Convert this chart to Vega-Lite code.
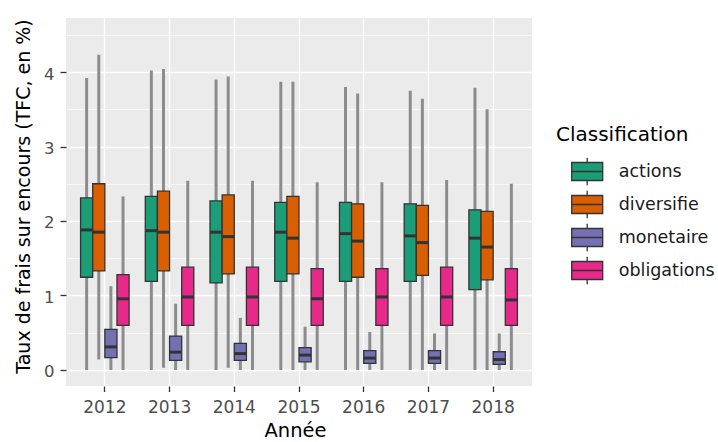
{
  "$schema": "https://vega.github.io/schema/vega-lite/v6.json",
  "width": 466,
  "height": 368,
  "autosize": {"type": "none"},
  "padding": {"left": 66, "top": 18, "right": 186, "bottom": 56},
  "background": "white",
  "config": {
    "view": {"fill": "#EBEBEB", "stroke": null},
    "font": "DejaVu Sans"
  },
  "data": {
    "values": [
      {"annee": "2012", "classe": "actions", "lo": 0, "q1": 1.245, "med": 1.88, "q3": 2.31, "hi": 3.92},
      {"annee": "2012", "classe": "diversifie", "lo": 0.14, "q1": 1.33, "med": 1.85, "q3": 2.5, "hi": 4.23},
      {"annee": "2012", "classe": "monetaire", "lo": 0, "q1": 0.165, "med": 0.31, "q3": 0.545, "hi": 1.125},
      {"annee": "2012", "classe": "obligations", "lo": 0, "q1": 0.6, "med": 0.955, "q3": 1.28, "hi": 2.33},
      {"annee": "2013", "classe": "actions", "lo": 0, "q1": 1.19, "med": 1.87, "q3": 2.33, "hi": 4.02},
      {"annee": "2013", "classe": "diversifie", "lo": 0.03, "q1": 1.33, "med": 1.85, "q3": 2.4, "hi": 4.04},
      {"annee": "2013", "classe": "monetaire", "lo": 0, "q1": 0.13, "med": 0.24, "q3": 0.455, "hi": 0.89},
      {"annee": "2013", "classe": "obligations", "lo": 0, "q1": 0.6, "med": 0.98, "q3": 1.38, "hi": 2.54},
      {"annee": "2014", "classe": "actions", "lo": 0, "q1": 1.17, "med": 1.85, "q3": 2.27, "hi": 3.9},
      {"annee": "2014", "classe": "diversifie", "lo": 0.03, "q1": 1.29, "med": 1.79, "q3": 2.35, "hi": 3.94},
      {"annee": "2014", "classe": "monetaire", "lo": 0, "q1": 0.13, "med": 0.22, "q3": 0.357, "hi": 0.7},
      {"annee": "2014", "classe": "obligations", "lo": 0, "q1": 0.6, "med": 0.98, "q3": 1.38, "hi": 2.54},
      {"annee": "2015", "classe": "actions", "lo": 0, "q1": 1.19, "med": 1.85, "q3": 2.25, "hi": 3.87},
      {"annee": "2015", "classe": "diversifie", "lo": 0, "q1": 1.29, "med": 1.77, "q3": 2.33, "hi": 3.87},
      {"annee": "2015", "classe": "monetaire", "lo": 0, "q1": 0.11, "med": 0.2, "q3": 0.3, "hi": 0.58},
      {"annee": "2015", "classe": "obligations", "lo": 0, "q1": 0.6, "med": 0.955, "q3": 1.36, "hi": 2.52},
      {"annee": "2016", "classe": "actions", "lo": 0, "q1": 1.19, "med": 1.83, "q3": 2.25, "hi": 3.8},
      {"annee": "2016", "classe": "diversifie", "lo": 0, "q1": 1.245, "med": 1.73, "q3": 2.23, "hi": 3.71},
      {"annee": "2016", "classe": "monetaire", "lo": 0, "q1": 0.09, "med": 0.16, "q3": 0.26, "hi": 0.51},
      {"annee": "2016", "classe": "obligations", "lo": 0, "q1": 0.6, "med": 0.98, "q3": 1.36, "hi": 2.52},
      {"annee": "2017", "classe": "actions", "lo": 0, "q1": 1.19, "med": 1.8, "q3": 2.23, "hi": 3.75},
      {"annee": "2017", "classe": "diversifie", "lo": 0, "q1": 1.27, "med": 1.71, "q3": 2.21, "hi": 3.64},
      {"annee": "2017", "classe": "monetaire", "lo": 0, "q1": 0.09, "med": 0.16, "q3": 0.26, "hi": 0.49},
      {"annee": "2017", "classe": "obligations", "lo": 0, "q1": 0.6, "med": 0.98, "q3": 1.38, "hi": 2.55},
      {"annee": "2018", "classe": "actions", "lo": 0, "q1": 1.08, "med": 1.77, "q3": 2.15, "hi": 3.79},
      {"annee": "2018", "classe": "diversifie", "lo": 0, "q1": 1.21, "med": 1.65, "q3": 2.13, "hi": 3.5},
      {"annee": "2018", "classe": "monetaire", "lo": 0, "q1": 0.075, "med": 0.14, "q3": 0.245, "hi": 0.49},
      {"annee": "2018", "classe": "obligations", "lo": 0, "q1": 0.6, "med": 0.94, "q3": 1.36, "hi": 2.5}
    ]
  },
  "encoding": {
    "x": {
      "field": "annee",
      "type": "nominal",
      "scale": {"paddingInner": 0, "paddingOuter": 0.1},
      "axis": {
        "title": "Année",
        "titleFontSize": 19.5,
        "titleFontWeight": "normal",
        "titleColor": "#000000",
        "titleBaseline": "alphabetic",
        "titleX": 229,
        "titleY": 50.5,
        "titleAlign": "center",
        "labelAngle": 0,
        "labelFontSize": 17,
        "labelColor": "#4D4D4D",
        "labelBaseline": "alphabetic",
        "labelPadding": 21,
        "tickSize": 5.5,
        "tickColor": "#333333",
        "tickWidth": 1.3,
        "domain": false,
        "grid": true,
        "gridColor": "#FFFFFF",
        "gridWidth": 1.3,
        "bandPosition": 0.5
      }
    },
    "xOffset": {
      "field": "classe",
      "type": "nominal",
      "scale": {"paddingInner": 0, "paddingOuter": 0.667}
    }
  },
  "layer": [
    {
      "mark": {"type": "rule", "color": "#8C8C8C", "strokeWidth": 3},
      "encoding": {
        "y": {
          "field": "lo",
          "type": "quantitative",
          "scale": {"domain": [-0.215, 4.725], "nice": false, "zero": false},
          "axis": {
            "title": "Taux de frais sur encours (TFC, en %)",
            "titleFontSize": 19,
            "titleFontWeight": "normal",
            "titleColor": "#000000",
            "titleX": -43,
            "titleY": 178,
            "titleAlign": "center",
            "titleBaseline": "middle",
            "values": [0, 0.5, 1, 1.5, 2, 2.5, 3, 3.5, 4, 4.5],
            "labelExpr": "datum.value % 1 === 0 ? format(datum.value, 'd') : ''",
            "labelFontSize": 16.5,
            "labelColor": "#4D4D4D",
            "labelBaseline": "alphabetic",
            "labelOffset": 7,
            "labelPadding": 6,
            "tickSize": 6,
            "tickColor": "#333333",
            "tickWidth": 1.3,
            "tickOpacity": {"condition": {"test": "datum.value % 1 !== 0", "value": 0}, "value": 1},
            "domain": false,
            "grid": true,
            "gridColor": "#FFFFFF",
            "gridWidth": {"condition": {"test": "datum.value % 1 !== 0", "value": 0.6}, "value": 1.3}
          }
        },
        "y2": {"field": "hi"}
      }
    },
    {
      "mark": {"type": "bar", "stroke": "#333333", "strokeWidth": 1.3, "opacity": 1},
      "encoding": {
        "y": {"field": "q1", "type": "quantitative"},
        "y2": {"field": "q3"},
        "color": {
          "field": "classe",
          "type": "nominal",
          "scale": {
            "domain": ["actions", "diversifie", "monetaire", "obligations"],
            "range": ["#1B9E77", "#D95F02", "#7570B3", "#E7298A"]
          },
          "legend": {
            "title": "Classification",
            "orient": "none",
            "legendX": 490,
            "legendY": 107,
            "padding": 0,
            "titleFontSize": 20,
            "titleFontWeight": "normal",
            "titleColor": "#000000",
            "titlePadding": 10,
            "labelFontSize": 17.5,
            "labelColor": "#1A1A1A",
            "labelOffset": 15,
            "symbolType": "M-1,-0.58L1,-0.58L1,0.58L-1,0.58Z M-1,0L1,0 M0,-0.58L0,-0.88 M0,0.58L0,0.88",
            "symbolSize": 961,
            "symbolStrokeColor": "#333333",
            "symbolStrokeWidth": 1.3,
            "symbolOpacity": 1,
            "symbolOffset": 14.7,
            "rowPadding": -2
          }
        }
      }
    },
    {
      "mark": {"type": "tick", "color": "#333333", "thickness": 3, "size": 12, "opacity": 1},
      "encoding": {
        "y": {"field": "med", "type": "quantitative"}
      }
    }
  ]
}
